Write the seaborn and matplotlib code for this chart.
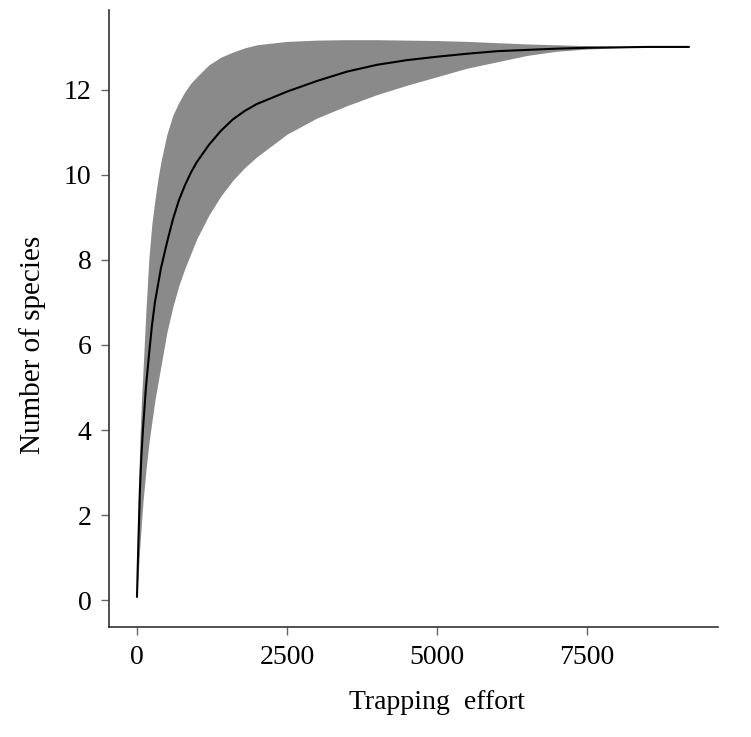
import numpy as np
import pandas as pd
import seaborn as sns
import matplotlib
matplotlib.use("Agg")
import matplotlib.pyplot as plt

# Species accumulation curve
effort = [1, 25, 50, 75, 100, 150, 200, 250, 300, 350, 400, 500, 600, 700,
          800, 900, 1000, 1200, 1400, 1600, 1800, 2000, 2500, 3000, 3500,
          4000, 4500, 5000, 5500, 6000, 6500, 7000, 7500, 8000, 8500, 9200]
species_mean = [0.08, 1.4, 2.6, 3.4, 4.0, 5.0, 5.75, 6.45, 7.0, 7.4, 7.8,
                8.4, 8.95, 9.4, 9.75, 10.05, 10.3, 10.7, 11.03, 11.3, 11.5,
                11.66, 11.95, 12.2, 12.42, 12.58, 12.69, 12.77, 12.84, 12.9,
                12.93, 12.96, 12.98, 12.99, 13.0, 13.0]
species_upper = [0.08, 2.6, 3.8, 4.7, 5.35, 6.8, 8.05, 8.85, 9.4, 9.9, 10.3,
                 10.95, 11.4, 11.7, 11.95, 12.15, 12.3, 12.58, 12.76, 12.88,
                 12.98, 13.05, 13.13, 13.16, 13.17, 13.17, 13.16, 13.15,
                 13.13, 13.1, 13.07, 13.05, 13.03, 13.01, 13.0, 13.0]
species_lower = [0.08, 0.7, 1.3, 1.8, 2.3, 3.05, 3.7, 4.2, 4.7, 5.1, 5.5,
                 6.3, 6.9, 7.4, 7.8, 8.15, 8.5, 9.05, 9.5, 9.87, 10.17,
                 10.42, 10.95, 11.33, 11.62, 11.88, 12.1, 12.3, 12.5, 12.65,
                 12.8, 12.9, 12.95, 12.98, 13.0, 13.0]

df = pd.DataFrame({'effort': effort, 'mean': species_mean,
                   'lower': species_lower, 'upper': species_upper})

sns.set_theme(style="ticks")
plt.rcParams['font.family'] = ['Liberation Serif', 'DejaVu Serif']
plt.rcParams['text.color'] = 'black'
plt.rcParams['axes.labelcolor'] = 'black'
plt.rcParams['xtick.labelcolor'] = 'black'
plt.rcParams['ytick.labelcolor'] = 'black'

fig = plt.figure(figsize=(7.51, 7.37), dpi=100)
ax = fig.add_axes([0.145, 0.149, 0.811, 0.837])

ax.fill_between(df['effort'], df['lower'], df['upper'], color='#8a8a8a',
                linewidth=0)
sns.lineplot(data=df, x='effort', y='mean', color='black', linewidth=1.5,
             ax=ax)

ax.set(xlim=(-467, 9683), ylim=(-0.63, 13.86))
ax.set_xticks([0, 2500, 5000, 7500])
ax.set_yticks([0, 2, 4, 6, 8, 10, 12])
ax.set_xlabel('Trapping  effort', fontsize=20)
ax.set_ylabel('Number of species', fontsize=21)
ax.xaxis.set_label_coords(0.538, -0.102)
ax.yaxis.set_label_coords(-0.103, 0.457)
ax.tick_params(labelsize=20, length=5.5, width=1, color='#666666', pad=7)

sns.despine(ax=ax)
for side in ['left', 'bottom']:
    ax.spines[side].set_color('#333333')
    ax.spines[side].set_linewidth(1.2)

fig.savefig('out.png', dpi=100)
